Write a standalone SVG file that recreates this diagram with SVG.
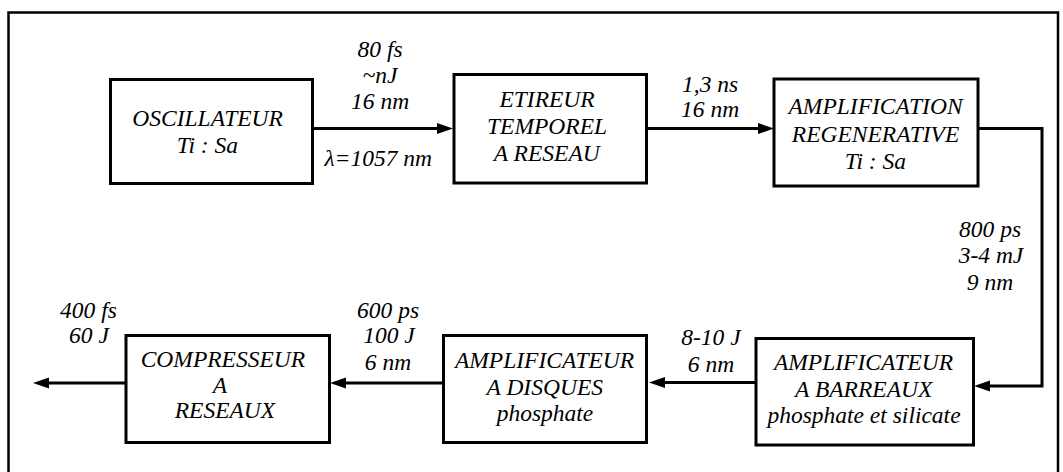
<svg xmlns="http://www.w3.org/2000/svg" width="1063" height="472" viewBox="0 0 1063 472">
<style>
.box{fill:#fff;stroke:#000;stroke-width:3}
.frame{fill:none;stroke:#000;stroke-width:2.5}
.con{fill:none;stroke:#000;stroke-width:3;marker-end:url(#ah)}
</style>
<defs>
<marker id="ah" markerUnits="userSpaceOnUse" markerWidth="16" markerHeight="12" refX="8" refY="5.5" orient="auto" overflow="visible">
<path d="M0,0 L16,5.5 L0,11 z" fill="#000"/>
</marker>
</defs>
<rect width="1063" height="472" fill="#fff"/>
<path class="frame" d="M8.5,480 V12.5 H1058 V480"/>
<g id="connectors">
<path class="con" d="M313,128.5 H445"/>
<path class="con" d="M647,128.5 H766"/>
<path class="con" d="M978,128.5 H1042 V386 H982"/>
<path class="con" d="M756,382.5 H657"/>
<path class="con" d="M443,383 H338"/>
<path class="con" d="M126,383 H41"/>
<text x="357.5" y="56.5" font-family="Liberation Serif" font-style="italic" font-size="23.5">80 fs</text>
<text x="362.5" y="82.5" font-family="Liberation Serif" font-style="italic" font-size="23.5">~nJ</text>
<text x="351" y="109" font-family="Liberation Serif" font-style="italic" font-size="23.5">16 nm</text>
<text x="324.4" y="166" font-family="Liberation Serif" font-style="italic" font-size="23.5">&#955;=1057 nm</text>
<text x="682" y="91.7" font-family="Liberation Serif" font-style="italic" font-size="23.5">1,3 ns</text>
<text x="681" y="117.3" font-family="Liberation Serif" font-style="italic" font-size="23.5">16 nm</text>
<text x="959" y="237" font-family="Liberation Serif" font-style="italic" font-size="23.5">800 ps</text>
<text x="958.7" y="263" font-family="Liberation Serif" font-style="italic" font-size="23.5">3-4 mJ</text>
<text x="966.8" y="290" font-family="Liberation Serif" font-style="italic" font-size="23.5">9 nm</text>
<text x="681.3" y="345" font-family="Liberation Serif" font-style="italic" font-size="23.5">8-10 J</text>
<text x="687.8" y="371.7" font-family="Liberation Serif" font-style="italic" font-size="23.5">6 nm</text>
<text x="357" y="318.3" font-family="Liberation Serif" font-style="italic" font-size="23.5">600 ps</text>
<text x="363.2" y="343.3" font-family="Liberation Serif" font-style="italic" font-size="23.5">100 J</text>
<text x="364.8" y="370" font-family="Liberation Serif" font-style="italic" font-size="23.5">6 nm</text>
<text x="60.1" y="318.3" font-family="Liberation Serif" font-style="italic" font-size="23.5">400 fs</text>
<text x="69.1" y="343.3" font-family="Liberation Serif" font-style="italic" font-size="23.5">60 J</text>
</g>
<g id="oscillateur">
<rect class="box" x="110.5" y="79.5" width="202" height="104"/>
<text x="132.3" y="126" font-family="Liberation Serif" font-style="italic" font-size="23.5">OSCILLATEUR</text>
<text x="176.7" y="152.7" font-family="Liberation Serif" font-style="italic" font-size="23.5">Ti : Sa</text>
</g>
<g id="etireur">
<rect class="box" x="454" y="74.5" width="192.5" height="108.5"/>
<text x="499.4" y="106.7" font-family="Liberation Serif" font-style="italic" font-size="23.5">ETIREUR</text>
<text x="487" y="134" font-family="Liberation Serif" font-style="italic" font-size="23.5">TEMPOREL</text>
<text x="493.8" y="160.7" font-family="Liberation Serif" font-style="italic" font-size="23.5">A RESEAU</text>
</g>
<g id="amplification">
<rect class="box" x="774" y="79" width="204" height="107"/>
<text x="788.5" y="114.3" font-family="Liberation Serif" font-style="italic" font-size="23.5">AMPLIFICATION</text>
<text x="791.8" y="141.7" font-family="Liberation Serif" font-style="italic" font-size="23.5">REGENERATIVE</text>
<text x="844.7" y="169" font-family="Liberation Serif" font-style="italic" font-size="23.5">Ti : Sa</text>
</g>
<g id="barreaux">
<rect class="box" x="756" y="338.5" width="217.5" height="106.5"/>
<text x="773.9" y="370" font-family="Liberation Serif" font-style="italic" font-size="23.5">AMPLIFICATEUR</text>
<text x="795.1" y="396.7" font-family="Liberation Serif" font-style="italic" font-size="23.5">A BARREAUX</text>
<text x="767.4" y="423.3" font-family="Liberation Serif" font-style="italic" font-size="23.5">phosphate et silicate</text>
</g>
<g id="disques">
<rect class="box" x="443.5" y="335.5" width="203" height="107"/>
<text x="454.9" y="368.3" font-family="Liberation Serif" font-style="italic" font-size="23.5">AMPLIFICATEUR</text>
<text x="486.6" y="395" font-family="Liberation Serif" font-style="italic" font-size="23.5">A DISQUES</text>
<text x="496.7" y="421" font-family="Liberation Serif" font-style="italic" font-size="23.5">phosphate</text>
</g>
<g id="compresseur">
<rect class="box" x="126" y="335.5" width="203.5" height="107"/>
<text x="140.7" y="367.3" font-family="Liberation Serif" font-style="italic" font-size="23.5">COMPRESSEUR</text>
<text x="212.8" y="393.3" font-family="Liberation Serif" font-style="italic" font-size="23.5">A</text>
<text x="174.7" y="418.3" font-family="Liberation Serif" font-style="italic" font-size="23.5">RESEAUX</text>
</g>
</svg>
